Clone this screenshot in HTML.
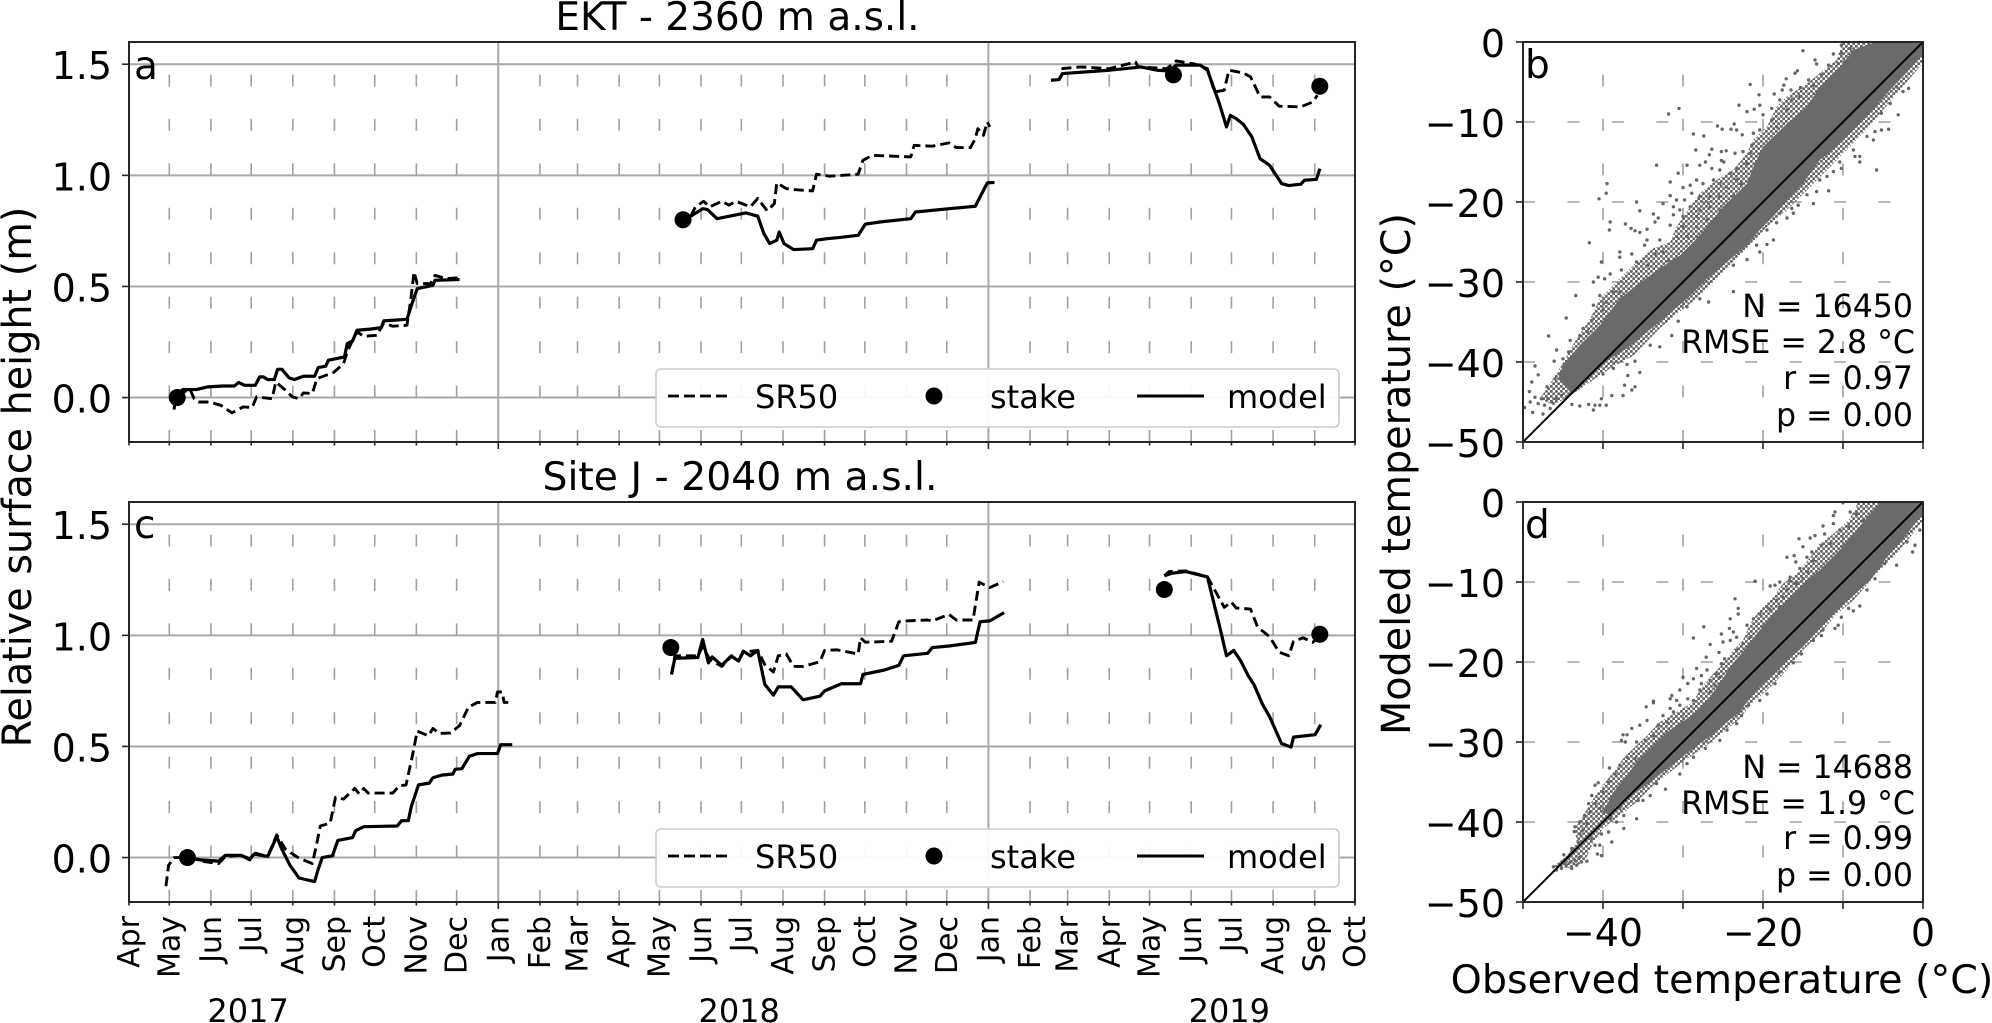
<!DOCTYPE html>
<html lang="en">
<head>
<meta charset="utf-8">
<title>Surface height and temperature comparison</title>
<style>
html,body{margin:0;padding:0;background:#fff;}
svg{display:block;font-family:"DejaVu Sans","Liberation Sans",sans-serif;}
text{fill:#000;}
</style>
</head>
<body>
<svg id="fig" xmlns="http://www.w3.org/2000/svg" width="1992" height="1023" viewBox="0 0 1992 1023">
<defs>
<clipPath id="clip-b"><rect x="1523" y="42" width="400" height="400"/></clipPath>
<clipPath id="clip-d"><rect x="1523" y="502" width="400" height="400"/></clipPath>
<pattern id="stipple" patternUnits="userSpaceOnUse" width="5" height="5">
  <circle cx="1.25" cy="1.25" r="1.55" fill="#666"/>
  <circle cx="3.75" cy="3.75" r="1.55" fill="#666"/>
</pattern>
</defs>
<rect x="0" y="0" width="1992" height="1023" fill="#fff"/>
<g id="layer-grid"></g>
<g id="layer-marks"></g>
<g id="layer-axes"></g>
<g id="layer-legend">
  <g>
    <rect x="656" y="369" width="683" height="58" rx="5" fill="#fff" fill-opacity="0.92" stroke="#cccccc" stroke-width="1.6"/>
    <line x1="668" y1="396" x2="732" y2="396" stroke="#000" stroke-width="2.8" stroke-dasharray="11 5"/>
    <text x="755" y="408" font-size="32">SR50</text>
    <circle cx="934" cy="396" r="8.5" fill="#000"/>
    <text x="990" y="408" font-size="32">stake</text>
    <line x1="1137" y1="396" x2="1204" y2="396" stroke="#000" stroke-width="3"/>
    <text x="1227" y="408" font-size="32">model</text>
  </g>
  <g>
    <rect x="656" y="829" width="683" height="58" rx="5" fill="#fff" fill-opacity="0.92" stroke="#cccccc" stroke-width="1.6"/>
    <line x1="668" y1="856" x2="732" y2="856" stroke="#000" stroke-width="2.8" stroke-dasharray="11 5"/>
    <text x="755" y="868" font-size="32">SR50</text>
    <circle cx="934" cy="856" r="8.5" fill="#000"/>
    <text x="990" y="868" font-size="32">stake</text>
    <line x1="1137" y1="856" x2="1204" y2="856" stroke="#000" stroke-width="3"/>
    <text x="1227" y="868" font-size="32">model</text>
  </g>
</g>
<g id="layer-text">
  <text x="737.5" y="30" font-size="39" text-anchor="middle">EKT - 2360 m a.s.l.</text>
  <text x="740" y="490" font-size="39.3" text-anchor="middle">Site J - 2040 m a.s.l.</text>
  <text transform="translate(31,477) rotate(-90)" font-size="39.7" text-anchor="middle">Relative surface height (m)</text>
  <text transform="translate(1410,474) rotate(-90)" font-size="39.7" text-anchor="middle">Modeled temperature (°C)</text>
  <text x="1722" y="993" font-size="39.6" text-anchor="middle">Observed temperature (°C)</text>
  <text x="134" y="79" font-size="39">a</text>
  <text x="1525" y="78" font-size="39">b</text>
  <text x="134" y="538" font-size="39">c</text>
  <text x="1525" y="538" font-size="39">d</text>
  <g font-size="31.6" text-anchor="end">
    <text x="1913" y="317">N = 16450</text>
    <text x="1915" y="353">RMSE = 2.8 °C</text>
    <text x="1913" y="389">r = 0.97</text>
    <text x="1913" y="426">p = 0.00</text>
  </g>
  <g font-size="31.6" text-anchor="end">
    <text x="1913" y="778">N = 14688</text>
    <text x="1915" y="814">RMSE = 1.9 °C</text>
    <text x="1913" y="849">r = 0.99</text>
    <text x="1913" y="886">p = 0.00</text>
  </g>
</g>
</svg>
<script>
// ---------- axis labels and ticks ----------
const monthLabels = ['Apr','May','Jun','Jul','Aug','Sep','Oct','Nov','Dec','Jan','Feb','Mar','Apr','May','Jun','Jul','Aug','Sep','Oct','Nov','Dec','Jan','Feb','Mar','Apr','May','Jun','Jul','Aug','Sep','Oct'];
const monthStartDays = [0,30,61,91,122,153,183,214,244,275,306,334,365,395,426,456,487,518,548,579,609,640,671,699,730,760,791,821,852,883,913];
const yearLabels = ['2017','2018','2019'];
const yearCenterDays = [88.7,454.4,819.4];
const yearBoundaryDays = [275,640];
const heightTicks = [0,0.5,1,1.5];
const temperatureTicks = [0,-10,-20,-30,-40,-50];
const temperatureVerticalGrid = [-40,-30,-20,-10];
const observedTicks = [-50,-40,-30,-20,-10,0];
const observedTickLabels = [-40,-20,0];

// ---------- panel a: EKT (days since 2017-04-01, height in m; null separates seasons) ----------
const ektModelDays = [33.5,40.2,50.1,58.4,70,78.4,81.7,86,94,97.3,100,103.3,108.3,110.6,113.9,119.3,123.2,129.9,138.2,140.9,146.5,148.5,160.5,162.5,166.5,169.8,179.7,188,189.7,207,210.3,214.6,226.3,227.9,246.2,null,
418.3,427.2,430.8,437.9,450.4,459.3,468.2,472.8,477.1,482.4,484.2,487.8,494.9,509.1,512,519.8,528.7,543,548.3,559,582.2,585.7,610.7,630.3,633.8,639.2,644.5,null,
686.6,692.6,695.1,730,747.9,753.2,765.7,774.6,779.9,797.7,803.1,806.7,812,817.3,820.2,824.5,829.8,836.2,842.3,849.4,858.3,863.7,872.6,875.4,884.3,886.8];
const ektModelHeights = [0.01,0.036,0.036,0.048,0.052,0.052,0.068,0.055,0.055,0.093,0.093,0.081,0.081,0.127,0.127,0.088,0.081,0.096,0.096,0.135,0.141,0.168,0.183,0.243,0.255,0.303,0.308,0.315,0.345,0.352,0.415,0.49,0.505,0.528,0.531,null,
0.816,0.85,0.846,0.805,0.82,0.831,0.816,0.738,0.693,0.708,0.745,0.693,0.666,0.67,0.708,0.715,0.72,0.73,0.78,0.79,0.805,0.835,0.85,0.861,0.903,0.966,0.968,null,
1.428,1.431,1.458,1.473,1.484,1.488,1.473,1.47,1.496,1.496,1.473,1.413,1.323,1.218,1.27,1.255,1.23,1.173,1.075,1.045,0.963,0.954,0.96,0.978,0.982,1.03];
const ektSr50Days = [33.5,35.2,45.2,48.5,51.8,60.1,68.4,76.7,85,91.7,95,106.6,109.3,116.6,121.6,126.6,129.9,136.5,139.9,146.5,151.5,159.8,162.5,166.5,169.8,174.8,184.7,189.7,196.4,207,209.6,212.3,214.6,224.6,227.9,236.2,247.9,null,
418.3,421.8,427.9,432.5,441.4,446.8,452.1,462.8,468.2,475.3,480.6,482.4,489.5,494.9,509.1,512,521.6,543,546.6,553.7,582.2,584.7,598.2,610.7,616,626.7,630.3,632.1,636.3,639.2,641,null,
694.4,708.7,730,749.6,751.4,772.8,779.9,794.2,803.1,808.4,815.6,819.1,829.8,835.2,842.3,849.4,856.5,872.6,881.5,885];
const ektSr50Heights = [-0.054,0.003,0.04,-0.005,-0.02,-0.02,-0.035,-0.069,-0.042,-0.045,0.003,-0.005,0.07,0.033,0.003,-0.005,0.021,0.018,0.085,0.1,0.108,0.153,0.205,0.258,0.295,0.276,0.28,0.336,0.321,0.325,0.43,0.565,0.513,0.513,0.55,0.535,0.54,null,
0.816,0.858,0.883,0.858,0.883,0.866,0.883,0.858,0.896,0.84,0.873,0.966,0.94,0.936,0.93,1.005,0.996,1.005,1.068,1.09,1.083,1.135,1.131,1.146,1.125,1.125,1.166,1.21,1.18,1.24,1.218,null,
1.48,1.488,1.48,1.51,1.488,1.48,1.515,1.5,1.48,1.375,1.383,1.473,1.461,1.443,1.353,1.353,1.311,1.308,1.33,1.36];
const ektStakeDays = [35.9,412.6,777.8,886.8];
const ektStakeHeights = [0,0.8,1.452,1.401];

// ---------- panel c: Site J ----------
const siteJModelDays = [46.8,53.5,66.8,71.7,83.4,90,93.3,103.3,110,113.9,119.9,126.6,138.2,140.5,143.9,151.5,155.5,166.5,168.8,174.8,199.7,203,208,210.3,215.6,223.6,226.3,232.9,241.2,242.9,247.9,253.5,259.5,274.4,276.8,285.4,null,
404,406.5,423.6,427.2,431.5,434.3,441.4,448.6,453.9,457.5,462.8,468.2,473.5,479.9,483.5,493.1,502,514.5,518,530.5,544.8,546.6,562.6,573.3,576.8,594.7,598.2,610.7,630.3,633.8,641,651.7,null,
771,776.4,787,803.1,806.7,812,817.3,822.7,828,833.4,837.7,844.1,849.4,858.3,865.4,867.2,883.3,887.5];
const siteJModelHeights = [-0.003,-0.011,-0.016,0.01,0.01,-0.006,0.016,0.005,0.094,0.037,-0.035,-0.092,-0.108,-0.06,0,0.008,0.077,0.09,0.121,0.139,0.142,0.166,0.166,0.231,0.327,0.335,0.359,0.371,0.376,0.397,0.4,0.456,0.468,0.468,0.508,0.508,null,
0.824,0.897,0.9,0.981,0.876,0.903,0.865,0.908,0.884,0.929,0.908,0.932,0.779,0.731,0.768,0.768,0.71,0.726,0.75,0.782,0.782,0.824,0.844,0.865,0.908,0.919,0.945,0.952,0.968,1.061,1.065,1.102,null,
1.268,1.279,1.287,1.263,1.174,1.045,0.908,0.932,0.884,0.819,0.779,0.69,0.634,0.513,0.497,0.542,0.553,0.598];
const siteJSr50Days = [27.5,29.5,33.5,46.8,53.5,66.8,71.7,83.4,90,93.3,103.3,110,116.6,126.6,136.5,139.2,142.5,149.8,153.8,159.8,168.1,171.4,174.8,178.1,196.4,201.3,206.3,211.3,214.6,222.9,226.3,231.2,239.5,246.2,252.8,259.5,272.8,274.4,277.8,279.4,284.4,null,
404,406.5,423.6,427.2,432.5,441.4,448.6,453.9,457.5,468.2,473.5,479.9,483.5,489.5,494.9,502,514.5,518,527,543,544.8,548.3,567.9,573.3,578.6,594.7,598.2,610.7,616,628.5,633.1,641,651,null,
771,774.6,787,803.1,812,815.6,820.9,824.5,835.2,840.5,849.4,856.5,863.7,867.2,874.4,881.5,886.8];
const siteJSr50Heights = [-0.129,-0.035,0,0,-0.016,-0.027,0.005,0.01,-0.011,0.021,0.005,0.102,0.037,-0.003,-0.027,0.045,0.142,0.155,0.271,0.263,0.311,0.287,0.311,0.29,0.29,0.323,0.327,0.465,0.569,0.548,0.581,0.558,0.561,0.594,0.677,0.698,0.698,0.745,0.745,0.698,0.698,null,
0.824,0.908,0.908,0.95,0.892,0.86,0.905,0.884,0.924,0.932,0.868,0.835,0.908,0.916,0.86,0.86,0.881,0.932,0.935,0.916,0.989,0.969,0.973,1.061,1.065,1.069,1.065,1.094,1.069,1.069,1.239,1.215,1.242,null,
1.268,1.287,1.29,1.263,1.166,1.126,1.15,1.123,1.118,1.037,0.994,0.924,0.908,0.973,0.989,0.968,0.997];
const siteJStakeDays = [43.5,403.5,771,886.8];
const siteJStakeHeights = [0,0.945,1.206,1.005];

// ---------- panel b: density envelopes and individually read points ----------
const bMediumObserved = [0,-10.5,-10.2,-10.8,-12.9,-14.5,-17,-18.3,-19.5,-21.2,-22,-23.7,-25.8,-27.9,-29.1,-30.8,-31.6,-33.7,-35.8,-37.9,-40.4,-41.6,-43.3,-45.4,-47,-47.9,-46.2,-44.1,-39.1,-36.2,-32.9,-30.8,-28.3,-25.8,-23.3,-21.6,-19.5,-17,-14.5,-12,-10,-7.5,-5,-2.9,-0.4,0];
const bMediumModeled = [0.5,0.5,-0.4,-2.25,-3.9,-5.2,-6.8,-8.1,-10.6,-12.25,-13.9,-16,-17.25,-18.9,-20.6,-23.1,-25,-25.8,-27.5,-29.6,-32.1,-34.6,-37.1,-40.8,-43.3,-44.6,-45.4,-44.2,-40.8,-39.2,-35.8,-34,-32.1,-29.6,-27.1,-25.4,-23.1,-21,-18.5,-16,-13.9,-11.4,-8.5,-6,-3.1,-2.5];
const bBandUpperObserved = [0,-5.5,-6.2,-8.7,-10.4,-12.9,-14.5,-17,-20,-21.2,-22,-25,-27,-28.7,-30.4,-32.9,-35.8,-37.9,-40.4,-42.9,-45,-45.6,-44.1];
const bBandUpperModeled = [0.5,0.5,-0.08,-1,-3.1,-5.6,-8.1,-10.2,-13.1,-15.6,-17.7,-20.6,-23.1,-25,-26.7,-28.3,-30.4,-32.1,-35.4,-37.9,-40.4,-42.1,-43.75];
const bBandLowerObserved = [-44.1,-42.5,-41.2,-39.1,-37,-34.5,-32,-29.5,-27,-24.5,-22,-20.4,-18.7,-17,-15,-12.9,-10.8,-8.7,-7,-4.5,-2.5,-0.4,0];
const bBandLowerModeled = [-44.2,-42.5,-41.25,-39.6,-38.3,-36.25,-34.2,-32.1,-29.6,-27.5,-25.4,-23.5,-21.8,-19.75,-17.7,-14.75,-13.1,-11,-9.3,-6.4,-4.3,-2,-1.5];
const bPointsObserved = [-15,-11.2,-13.5,-13.3,-15.7,-16,-17.1,-21.6,-17.4,-17.6,-20.5,-18.6,-16.5,-15.3,-14.3,-13.7,-12.7,-11.8,-10.6,-10.2,-9.1,-10.2,-9.8,-23,-20.4,-21.1,-22,-20,-18.9,-17.9,-17,-16.4,-15.4,-31.8,-30.5,-25.7,-25.1,-23.6,-24,-23.3,-22.6,-21.2,-20.4,-18.9,-18.3,-28.7,-27.4,-28.4,-26.4,-25.2,-24.6,-26.7,-23.5,-22.5,-21.4,-21.6,-33.3,-29.5,-27.9,-27.2,-26.4,-25.2,-24.9,-25.4,-24.1,-23.3,-22,-39.5,-39.6,-40.5,-35.8,-35.4,-39.1,-39.2,-37.2,-36.5,-36,-34.5,-35.4,-33.7,-33.1,-33.5,-30.6,-31.6,-30,-29.1,-28.3,-27.5,-26.2,-25.4,-24.6,-23.3,-22.7,-31.6,-32.5,-30.8,-29.8,-28.9,-27.9,-26.6,-25.4,-23.7,-31.2,-30.4,-29.1,-27.9,-26.6,-25.4,-31.2,-30,-28.3,-27,-25.8,-31.6,-30,-28.3,-27,-32.9,-30.8,-29.5,-28.3,-34.5,
-5.8,-3.1,-1.8,-2.5,-4.3,-5.2,-6,-6.2,-7.9,-8.5,-7.9,-10.2,-11.2,-12,-11.8,-13.7,-14.5,-16.4,-16.2,-17,-18.3,-19.5,-18.7,-3.3,-4.1,-5.2,-7,-8.7,-10.4,-12.9,-13.3,-15.6,-17.9,
-20.4,-19.5,-20.8,-22,-23.7,-23.7,-26.8,-27.9,-29.5,-30.6,-31.4,-32.9,-34.1,-36,-35.4,-37,-36.9,-36,-37.3,-37.5,-36.4,-38.9,-39.6,-40.2,-41,-41.2,-41.8,-42.9,-43.9,-40.4,-40,-38.7,
-41.7,-40.2,-37.9,-37.9,-36.4,-35.8,-34.8,-33.5,-32.5,-31.8,-34.4,-37.7,-39.1,-39.8,-40.6,-41.2,-43.4,-44.6,-46.8,-45.8,-44.1,-46.1,-48.5,-48.1,-48.9,-49.2,-47,-46,-45.4,-48.5,-48.1,-47.7,-47.3,-46.9,-46.4,-49.1,-49.8,-48.8,-47.5,-46.6,-45.8,-45.2,-41.4,-41.9,-40.4,-41.2,-39.6,-38.7,-37.9,-40,-42.9,-42.5,-44.3,-43.5,-45];
const bPointsModeled = [-1.1,-1.5,-2.25,-2.75,-3.6,-3.9,-4.6,-5.3,-5.4,-6,-6.6,-6.5,-6,-5.7,-4.75,-5.4,-4.1,-2.9,-2.7,-0.4,-0.8,-1.4,-2.5,-7.9,-7.9,-8.4,-8.7,-9.1,-8.3,-7.25,-8.5,-7.25,-6.8,-9,-8.3,-10.5,-10.9,-10.25,-10.9,-11,-11.6,-11.4,-11,-9.75,-10.6,-11.5,-11.75,-13.5,-13.4,-13.7,-13.6,-14.1,-13.9,-13.7,-12.9,-13.9,-15.4,-15.4,-15.4,-15,-15.8,-14.8,-15,-16,-16.4,-15.8,-15.2,-17.7,-18.9,-19.6,-20,-21.1,-22.5,-23.5,-22.75,-23.3,-23.6,-23.4,-23.8,-21.5,-22,-22.5,-16.4,-17.5,-18.2,-17.9,-17.25,-17.7,-17.25,-17.7,-18.1,-17.25,-17.7,-19.2,-20.2,-19.75,-19.75,-18.9,-19.3,-19.3,-19.3,-19.3,-20.6,-21,-20.6,-21,-20.6,-21,-21.6,-21.8,-21.8,-22.25,-22,-22.9,-23.1,-23.1,-23.7,-24.75,-24.3,-24.3,-24.3,-24.75,
-16,-9.1,-5.8,-6.2,-10.9,-11,-11.2,-12.25,-14.3,-14.3,-15,-15.8,-16.2,-16.8,-18.6,-20.2,-19.1,-20.8,-21.4,-22,-22.6,-23.5,-24.75,-5.6,-7.7,-8.9,-11.8,-13.5,-15,-17.25,-18.7,-20.4,-21.4,
-26.25,-25.3,-25.4,-27.2,-27.9,-31.2,-32.5,-32.1,-33.1,-34.9,-36.7,-38.1,-37.9,-39.9,-41.3,-40.3,-41.7,-43.1,-42.9,-44.2,-43.5,-44.2,-45.4,-44.6,-45.4,-46,-45.3,-45.5,-45.3,-45.4,-41.5,-40.8,
-25.1,-27.5,-26.25,-26.9,-26.5,-27.5,-25.4,-26.5,-26.25,-27.3,-27.9,-28.5,-29,-29.6,-29.4,-30,-31.7,-34.5,-36.75,-38.5,-37.3,-39.9,-40.5,-41.6,-42.5,-43.7,-43.1,-42.1,-41.5,-44.4,-45.2,-44.6,-45.4,-44.6,-45,-45,-45.7,-46.3,-46.5,-45.8,-44.6,-44.2,-34.8,-36.25,-31.7,-32.9,-32.5,-31.25,-31.25,-33.5,-36.7,-35.8,-38.75,-39.4,-39.6];

// ---------- panel d: density envelopes and individually read points ----------
const dMediumObserved = [0,-8.5,-8.3,-9.3,-11.2,-12.9,-14.1,-15.8,-17.5,-18.7,-20.4,-21.6,-22.5,-23.7,-25,-26.6,-27.9,-28.7,-30.8,-32.9,-34.5,-36.2,-37.5,-38.7,-40,-41.2,-42.5,-43.5,-43.3,-44.5,-46.2,-44.1,-42.3,-41.4,-40,-37.9,-35.8,-33.7,-31.6,-29.5,-27,-25,-22.9,-21.6,-19.5,-17.5,-15,-12.9,-10.8,-8.7,-6.2,-3.7,-1.6,0];
const dMediumModeled = [0.5,0.5,-0.6,-2.3,-4,-5.2,-6.9,-9,-10.2,-11.9,-13.5,-15.2,-17.3,-18.5,-20.2,-21.9,-23.5,-25,-26.25,-27.5,-29.2,-30.8,-32.1,-33.75,-35.4,-37.1,-39.2,-40.8,-42.5,-44.2,-45.6,-45.8,-45,-42.9,-40.8,-39.2,-37.5,-35.4,-33.75,-32.1,-30.4,-28.75,-27.1,-25.4,-23.5,-21.5,-18.5,-16.5,-14,-12.3,-9.4,-6.9,-4.4,-2.3];
const dBandUpperObserved = [0,-4.8,-5.4,-7,-8.7,-10.4,-12.9,-14.5,-17,-18.7,-20.8,-22,-24.1,-25.4,-27,-27.9,-29.5,-32,-33.7,-35.8,-37,-38.7,-40];
const dBandUpperModeled = [0.5,0.5,-0.2,-1.9,-4,-6,-8.5,-9.8,-12.3,-14,-16.5,-18.1,-20.6,-22.7,-24.8,-25.8,-27.1,-28.75,-30.4,-32.5,-34.2,-36.25,-38.75];
const dBandLowerObserved = [-39.1,-38.3,-37,-35.8,-34.1,-32.5,-30.4,-27.9,-26.2,-24.5,-22.9,-22,-20.4,-18.7,-17,-15,-12.9,-10.8,-8.7,-6.6,-4.5,-2,-0.4,0];
const dBandLowerModeled = [-39.2,-37.9,-37.1,-36.25,-35,-33.75,-32.1,-30.2,-29,-27.5,-26.25,-25,-23.1,-21.5,-19.8,-18.1,-15.8,-13.5,-11.7,-9.8,-6.9,-4,-1.9,-1.5];
const dPointsObserved = [-10,-9.1,-11,-11.2,-8.3,-7.5,-11.2,-12.5,-12.3,-13.5,-14.1,-15.5,-10.4,-9.3,-11.6,-12.7,-15,-13.9,-16.1,-17,-15.9,-14.5,-13.7,-15.4,-14.4,-16.6,-16.7,-17.9,-18.5,-19.1,-21,-15.8,-15,-17,-17.5,-18.3,-19.5,-23.5,-23.1,-23.1,-24.1,-21.2,-20.4,-19.1,-17.9,-22,-24.2,-23.7,-27.4,-28.7,-25.2,-25,-24.1,-23.3,-26.6,-25.5,-27.1,-23.3,-22.5,-21.6,-24.8,-25.2,-28.3,-27,-25.8,-27.7,-30,-28.7,-29.4,-26.6,-27.7,-26,-30.4,-31.4,-31.6,-33.7,-30.8,-29.4,-28.7,-27.9,-26.6,-25.4,
-0.4,-1,-1.3,-2,-3.3,-4.8,-6,-7,-7.9,-8.7,-9.3,-10.2,-10.6,-11,-12.5,-12.7,-13.7,-15.2,-16.2,-17.9,-18.5,-19.5,-20.4,
-34.6,-33.7,-34.5,-35.4,-36.4,-37,-37.5,-37.2,-37.7,-35.8,-34.7,-33.7,-33.1,-32.5,-32,-31.6,-30.4,-31.2,-37,-36,-37.9,-39.2,-38.5,-40.6,-41,-39.3,-40,-41.4,-41.8,-41,-40.4,-42.3,-41.6,-42.9,-42,-43.5,-43.6,-42.5,-42.9,-43.1,-43.9,-44.9,-46.2,-45.8,-45.2,-44.6,-43.9,-43.3,-42.7,-42,-42.9,-43.5,-44.1,-44.8,-44.1,-43.7,
-40.2,-40.7,-40.4,-41,-38.9,-39.3,-40.2,-41.4,-37.4,-38.3,-39.1,-35.8,-37.4,-37.9,-35,-35.6,-34.1,-32.2,-33.3,-30.4,-29.5,-28.7,-27.2,-25.4,-24.5,-23.3,-21.8,-22.7];
const dPointsModeled = [-0.1,-1.25,-1.25,-1.7,-1.5,-2.3,-2.7,-3,-4,-4.2,-4.5,-4.6,-3.5,-3.1,-5.2,-5.4,-5.6,-6.25,-6.7,-6.9,-7.5,-6.9,-7.3,-8.3,-8.75,-9.4,-9.8,-10,-10.4,-10.5,-9.9,-10.2,-9.6,-11,-11.9,-12.3,-13.1,-12.1,-13.3,-14,-14.6,-14.6,-14,-13.5,-13.1,-15.4,-15.8,-16.25,-15.6,-17,-16.5,-17.5,-17.3,-16.9,-17.8,-18.8,-19.4,-18.5,-17.7,-16.9,-19.6,-20.2,-20.8,-21,-21.5,-21.7,-21.9,-22.1,-22.7,-22.3,-22.7,-22.9,-23.5,-24.2,-24.6,-24.9,-24.8,-24.6,-24.8,-23.5,-23.75,-21.9,
-3.5,-5.4,-6.25,-5,-7.9,-7.7,-9.6,-11,-13,-13.6,-13.3,-14.4,-15.4,-15.8,-16,-16.7,-17.3,-19,-20.1,-21.25,-22.7,-24,-24.8,
-25.6,-25.1,-27.3,-27.9,-28.3,-29.1,-29.1,-30,-29.8,-30,-29.8,-29.2,-27.9,-26.7,-27.5,-25.8,-25.4,-26.25,-31.9,-32.1,-32.9,-33.25,-34,-35.1,-35.4,-35,-36.25,-36.7,-37.7,-37.7,-38.3,-39.2,-38.75,-40,-40.2,-40.6,-41.2,-41,-41.5,-42.5,-43.3,-44.1,-45.6,-46,-45.8,-45.4,-45.8,-45.4,-45,-44.9,-44.4,-44.8,-45,-45.2,-44.2,-43.75,
-44.2,-44,-42.9,-42.9,-42.5,-41.25,-41.5,-42.1,-40.8,-40,-39.6,-39.6,-39.2,-38.3,-37.3,-37.3,-36.7,-35.9,-35.2,-34,-32.7,-31.9,-30.8,-29.8,-28.5,-27.7,-25.4,-26.7];

const oneToOneLimits = [-50,0];

// ---------- axis functions ----------
const NS = 'http://www.w3.org/2000/svg';
const gridLayer = document.getElementById('layer-grid');
const markLayer = document.getElementById('layer-marks');
const axisLayer = document.getElementById('layer-axes');

const timeX = d => 129 + d * (1226 / 913);
const heightY = (v, top) => top + (1.6 - v) * (400 / 1.8);
const obsX = v => 1523 + (v + 50) * 8;
const modY = (v, top) => top - v * 8;

function shape(tag, attrs, parent) {
  const el = document.createElementNS(NS, tag);
  for (const k in attrs) el.setAttribute(k, attrs[k]);
  parent.appendChild(el);
  return el;
}

function linePath(days, heights, top) {
  let d = '';
  let pen = false;
  for (let i = 0; i < days.length; i++) {
    if (days[i] === null || heights[i] === null) { pen = false; continue; }
    d += (pen ? 'L' : 'M') + timeX(days[i]).toFixed(2) + ' ' + heightY(heights[i], top).toFixed(2);
    pen = true;
  }
  return d;
}

// ---------- time-series panels ----------
function drawTimePanel(top, showLabels) {
  const bottom = top + 400;
  heightTicks.forEach(v => {
    const y = heightY(v, top);
    const g = shape('line', {x1: 129, x2: 1355, y1: y, y2: y, stroke: '#a8a8a8', 'stroke-width': 2}, gridLayer);
    
    
    const t = shape('line', {x1: 122, x2: 129, y1: y, y2: y, stroke: '#262626', 'stroke-width': 1.6}, axisLayer);
    
    
    const lab = shape('text', {x: 112, y: y + 15, 'font-size': 38, 'text-anchor': 'end'}, axisLayer);
    lab.textContent = v.toFixed(1);
    
    
  });
  monthStartDays.forEach((d, i) => {
    const x = timeX(d);
    const major = yearBoundaryDays.includes(d);
    if (major) {
      const g = shape('line', {x1: x, x2: x, y1: top, y2: bottom, stroke: '#a8a8a8', 'stroke-width': 2}, gridLayer);
      
      
    } else if (i > 0 && i < monthStartDays.length - 1) {
      const g = shape('line', {x1: x, x2: x, y1: bottom, y2: top, stroke: '#a0a0a0', 'stroke-width': 1.6, 'stroke-dasharray': '12 32.44'}, gridLayer);
      
      
    }
    const t = shape('line', {x1: x, x2: x, y1: bottom, y2: bottom + (major ? 7 : 3.5), stroke: '#262626', 'stroke-width': 1.6}, axisLayer);
    
    
    if (showLabels) {
      const lab = shape('text', {transform: 'translate(' + (x + 10) + ',' + 916 + ') rotate(-90)', 'font-size': 30, 'text-anchor': 'end'}, axisLayer);
      lab.textContent = monthLabels[i];
      
      
    }
  });
  const spine = shape('rect', {x: 129, y: top, width: 1226, height: 400, fill: 'none', stroke: '#262626', 'stroke-width': 2}, axisLayer);
  
  
}

function drawTimeSeries(top, sr50Days, sr50Heights, modelDays, modelHeights, stakeDays, stakeHeights) {
  const sr = shape('path', {d: linePath(sr50Days, sr50Heights, top), fill: 'none', stroke: '#000', 'stroke-width': 2.9, 'stroke-dasharray': '10 5', 'stroke-linejoin': 'round'}, markLayer);
  
  
  const mo = shape('path', {d: linePath(modelDays, modelHeights, top), fill: 'none', stroke: '#000', 'stroke-width': 3.2, 'stroke-linejoin': 'round'}, markLayer);
  
  
  stakeDays.forEach((d, i) => {
    const c = shape('circle', {cx: timeX(d), cy: heightY(stakeHeights[i], top), r: 8.5, fill: '#000'}, markLayer);
    
    
  });
}

drawTimePanel(42, false);
drawTimePanel(502, true);
drawTimeSeries(42, ektSr50Days, ektSr50Heights, ektModelDays, ektModelHeights, ektStakeDays, ektStakeHeights);
drawTimeSeries(502, siteJSr50Days, siteJSr50Heights, siteJModelDays, siteJModelHeights, siteJStakeDays, siteJStakeHeights);

yearLabels.forEach((label, i) => {
  const t = shape('text', {x: timeX(yearCenterDays[i]), y: 1022, 'font-size': 32, 'text-anchor': 'middle'}, axisLayer);
  t.textContent = label;
  
  
});

// ---------- scatter panels ----------
function drawScatterPanel(top, showLabels) {
  const bottom = top + 400;
  temperatureTicks.forEach(v => {
    const y = modY(v, top);
    if (v !== 0 && v !== -50) {
      const g = shape('line', {x1: 1523, x2: 1923, y1: y, y2: y, stroke: '#a0a0a0', 'stroke-width': 1.6, 'stroke-dasharray': '12 32.44'}, gridLayer);
      
      
    }
    const t = shape('line', {x1: 1516, x2: 1523, y1: y, y2: y, stroke: '#262626', 'stroke-width': 1.6}, axisLayer);
    
    
    const lab = shape('text', {x: 1505, y: y + 15, 'font-size': 38, 'text-anchor': 'end'}, axisLayer);
    lab.textContent = String(v).replace('-', '\u2212');
    
    
  });
  temperatureVerticalGrid.forEach(v => {
    const x = obsX(v);
    const g = shape('line', {x1: x, x2: x, y1: bottom, y2: top, stroke: '#a0a0a0', 'stroke-width': 1.6, 'stroke-dasharray': '12 32.44'}, gridLayer);
    
    
  });
  observedTicks.forEach(v => {
    const x = obsX(v);
    const t = shape('line', {x1: x, x2: x, y1: bottom, y2: bottom + 7, stroke: '#262626', 'stroke-width': 1.6}, axisLayer);
    
    
  });
  if (showLabels) {
    observedTickLabels.forEach(v => {
      const lab = shape('text', {x: obsX(v), y: 946, 'font-size': 38, 'text-anchor': 'middle'}, axisLayer);
      lab.textContent = String(v).replace('-', '\u2212');
      
      
    });
  }
  const spine = shape('rect', {x: 1523, y: top, width: 400, height: 400, fill: 'none', stroke: '#262626', 'stroke-width': 2}, axisLayer);
  
  
}

function drawScatter(top, clipId, medObs, medMod, upObs, upMod, loObs, loMod, ptObs, ptMod) {
  const group = shape('g', {'clip-path': 'url(#' + clipId + ')'}, markLayer);
  
  
  const medCoords = medObs.map((v, i) => obsX(v).toFixed(1) + ',' + modY(medMod[i], top).toFixed(1));
  const medium = shape('polygon', {points: medCoords.join(' '), fill: 'url(#stipple)'}, group);
  
  
  let coords = [];
  upObs.forEach((v, i) => coords.push(obsX(v).toFixed(1) + ',' + modY(upMod[i], top).toFixed(1)));
  loObs.forEach((v, i) => coords.push(obsX(v).toFixed(1) + ',' + modY(loMod[i], top).toFixed(1)));
  const band = shape('polygon', {points: coords.join(' '), fill: '#6a6a6a'}, group);
  
  
  ptObs.forEach((v, i) => {
    const c = shape('circle', {cx: obsX(v).toFixed(1), cy: modY(ptMod[i], top).toFixed(1), r: 1.7, fill: '#666'}, group);
    
    
  });
  const line = shape('line', {x1: obsX(oneToOneLimits[0]), y1: modY(oneToOneLimits[0], top), x2: obsX(oneToOneLimits[1]), y2: modY(oneToOneLimits[1], top), stroke: '#000', 'stroke-width': 2}, markLayer);
  
  
}

drawScatterPanel(42, false);
drawScatterPanel(502, true);
drawScatter(42, 'clip-b', bMediumObserved, bMediumModeled, bBandUpperObserved, bBandUpperModeled, bBandLowerObserved, bBandLowerModeled, bPointsObserved, bPointsModeled);
drawScatter(502, 'clip-d', dMediumObserved, dMediumModeled, dBandUpperObserved, dBandUpperModeled, dBandLowerObserved, dBandLowerModeled, dPointsObserved, dPointsModeled);
</script>
</body>
</html>
